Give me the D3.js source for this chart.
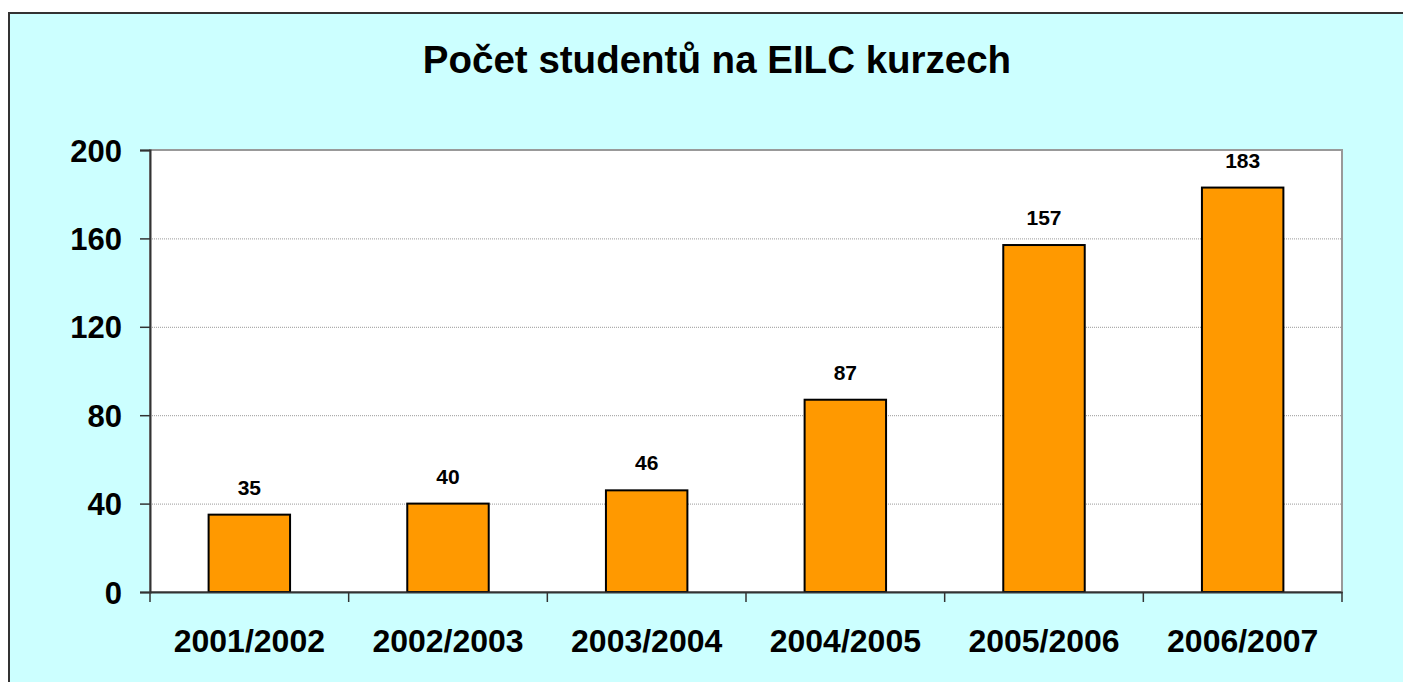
<!DOCTYPE html>
<html>
<head>
<meta charset="utf-8">
<script src="https://cdn.jsdelivr.net/npm/d3@7"></script>
<style>
  html, body { margin: 0; padding: 0; background: #fff; overflow: hidden; }
  text { font-family: Arial, "Liberation Sans", sans-serif; font-weight: bold; fill: #000; }
</style>
</head>
<body>
<div id="chart"></div>
<script>
const title = 'Počet studentů na EILC kurzech';
const years = ['2001/2002', '2002/2003', '2003/2004', '2004/2005', '2005/2006', '2006/2007'];
const students = [35, 40, 46, 87, 157, 183];
const yTicks = [0, 40, 80, 120, 160, 200];

const width = 1403, height = 682;
const plot = { left: 150, top: 150, right: 1342, bottom: 592 };

const svg = d3.select('#chart').append('svg')
  .attr('width', width)
  .attr('height', height);

// outer frame, runs past the right and bottom edge like the screenshot
svg.append('rect')
  .attr('x', 9).attr('y', 13)
  .attr('width', width + 20).attr('height', height + 20)
  .attr('fill', '#ccffff')
  .attr('stroke', '#333').attr('stroke-width', 2);

svg.append('text')
  .attr('x', 717).attr('y', 73)
  .attr('text-anchor', 'middle')
  .style('font-size', '38.5px')
  .text(title);

const x = d3.scaleBand()
  .domain(years)
  .range([plot.left, plot.right])
  .paddingInner(0.59)
  .paddingOuter(0.295);

const xBand = d3.scaleBand().domain(years).range([plot.left, plot.right]);

const y = d3.scaleLinear()
  .domain([0, 200])
  .range([plot.bottom, plot.top]);

// plot background
svg.append('rect')
  .attr('x', plot.left).attr('y', plot.top)
  .attr('width', plot.right - plot.left).attr('height', plot.bottom - plot.top)
  .attr('fill', '#fff')
  .attr('stroke', '#999').attr('stroke-width', 2);

// gridlines
svg.append('g')
  .selectAll('line')
  .data(yTicks.filter(d => d > 0 && d < 200))
  .enter().append('line')
  .attr('x1', plot.left).attr('x2', plot.right)
  .attr('y1', d => y(d) + 0.5).attr('y2', d => y(d) + 0.5)
  .attr('stroke', '#999')
  .attr('stroke-width', 1)
  .attr('stroke-dasharray', '1,1');

// bars
svg.append('g')
  .selectAll('rect')
  .data(students)
  .enter().append('rect')
  .attr('x', (d, i) => x(years[i]))
  .attr('y', d => y(d))
  .attr('width', x.bandwidth())
  .attr('height', d => y(0) - y(d))
  .attr('fill', '#ff9900')
  .attr('stroke', '#000')
  .attr('stroke-width', 2);

// value labels
svg.append('g')
  .selectAll('text')
  .data(students)
  .enter().append('text')
  .attr('x', (d, i) => x(years[i]) + x.bandwidth() / 2)
  .attr('y', d => y(d) - 20)
  .attr('text-anchor', 'middle')
  .style('font-size', '21px')
  .text(d => d);

// y axis
const yAxis = svg.append('g')
  .attr('transform', `translate(${plot.left},0)`)
  .call(d3.axisLeft(y).tickValues(yTicks).tickSize(10).tickPadding(18));
yAxis.select('.domain').attr('stroke', '#333').attr('stroke-width', 2);
yAxis.selectAll('.tick line').attr('stroke', '#333').attr('stroke-width', 1.5);
yAxis.selectAll('.tick text')
  .style('font-size', '31px')
  .attr('dy', '0.36em');

// x axis, ticks on the category boundaries
const xAxis = svg.append('g')
  .attr('transform', `translate(0,${plot.bottom})`)
  .call(d3.axisBottom(xBand).tickSize(0).tickPadding(37));
xAxis.select('.domain').attr('stroke', '#333').attr('stroke-width', 2);
xAxis.selectAll('.tick text')
  .style('font-size', '32px');

xAxis.selectAll('line.boundary')
  .data(d3.range(years.length + 1))
  .enter().append('line')
  .attr('class', 'boundary')
  .attr('x1', i => plot.left + i * xBand.step())
  .attr('x2', i => plot.left + i * xBand.step())
  .attr('y1', 0).attr('y2', 10)
  .attr('stroke', '#333').attr('stroke-width', 1.5);
</script>
</body>
</html>
